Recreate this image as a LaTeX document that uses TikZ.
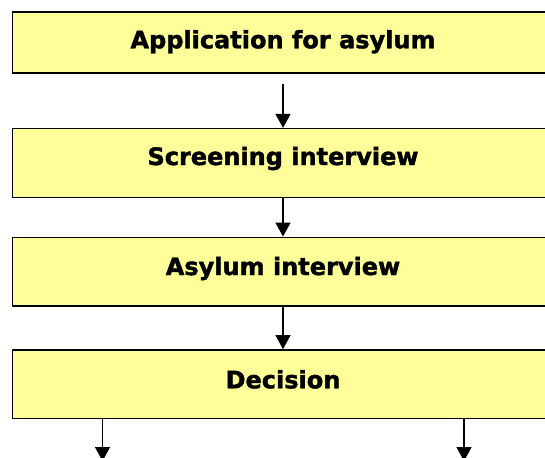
\documentclass[tikz,border=0pt]{standalone}
\usepackage{fontspec}
\setmainfont[BoldFeatures={FakeBold=1.6}]{DejaVu Sans}
\usetikzlibrary{arrows.meta,positioning}
\definecolor{boxyellow}{RGB}{255,255,153}
\tikzset{
  stage/.style = {draw, line width=1.6pt, fill=boxyellow, rectangle,
                  minimum width=541pt, inner sep=0pt},
  stagetext/.style = {anchor=base, inner sep=0pt, font=\bfseries\fontsize{24}{28}\selectfont},
  flow/.style  = {-{Triangle[length=14pt,width=15pt]}, line width=1.4pt}
}

\begin{document}
\begin{tikzpicture}[x=1pt, y=-1pt]
\useasboundingbox (0,0) rectangle (545,457);
\clip (0,0) rectangle (545,457);

% the four stages, one below the other
\node[stage, minimum height=61pt] (app) at (283,42.8) {};
\node[stage, minimum height=68.6pt] (scr) at (283,163) {};
\node[stage, minimum height=68.7pt] (asy) at (283,271.7) {};
\node[stage, minimum height=68.7pt] (dec) at (283,384.3) {};

% texts of the stages
\node[stagetext] (appt) at (283,48.3) {Application for asylum};
\node[stagetext] (scrt) at (283,165) {Screening interview};
\node[stagetext] (asyt) at (283,275) {Asylum interview};
\node[stagetext] (dect) at (283,388.3) {Decision};

% free ends of the two outcomes
\coordinate (outl) at (102.5,461);
\coordinate (outr) at (464,461);

% arrows between the stages
\draw[flow] ([yshift=-9.5pt]app.south) -- (scr.north);
\draw[flow] (scr) -- (asy);
\draw[flow] (asy) -- (dec);

% arrows leaving the decision
\foreach \out in {outl,outr}
  \draw[flow] (dec.south -| \out) -- (\out);
\end{tikzpicture}
\end{document}
